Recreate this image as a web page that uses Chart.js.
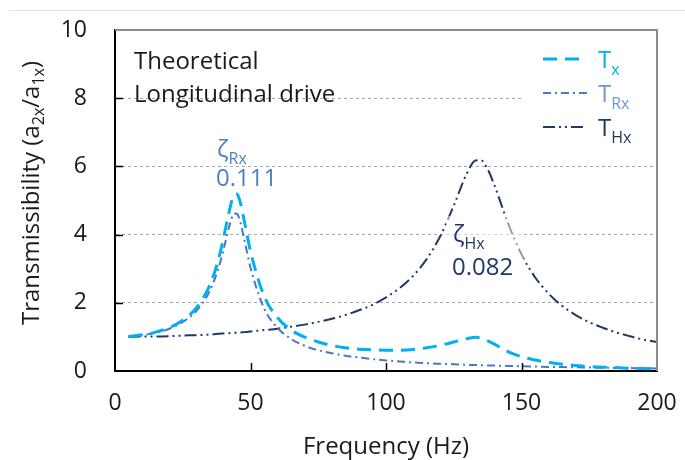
<!DOCTYPE html>
<html><head><meta charset="utf-8">
<script src="https://cdn.jsdelivr.net/npm/chart.js@4.4.1/dist/chart.umd.min.js"></script>
<style>html,body{margin:0;padding:0;background:#fff;}#wrap{width:685px;height:460px;}</style>
</head><body><div id="wrap"><canvas id="c" width="685" height="460"></canvas></div>
<script>
// Frequency (Hz)
const freq = [5,10,15,20,25,30,35,38,40,42,44,45,46,48,50,
  55,60,65,70,75,80,85,90,95,100,
  105,110,115,120,125,130,133,135,137,140,
  145,150,155,160,165,170,175,180,185,190,
  195,200];
// T_x
const tx = [1.01,1.06,1.14,1.27,1.49,1.85,2.52,3.22,3.88,4.63,5.17,5.19,5.01,4.29,3.51,
  2.20,1.56,1.20,0.99,0.85,0.75,0.68,0.64,0.62,0.61,
  0.61,0.63,0.68,0.75,0.85,0.95,0.99,0.96,0.90,0.79,
  0.57,0.42,0.32,0.25,0.20,0.16,0.13,0.11,0.10,0.08,
  0.07,0.06];
// T_Rx
const trx = [1.01,1.05,1.12,1.24,1.44,1.76,2.35,2.97,3.54,4.19,4.62,4.61,4.43,3.75,3.03,
  1.84,1.26,0.94,0.74,0.61,0.52,0.45,0.40,0.35,0.31,
  0.28,0.25,0.23,0.21,0.20,0.18,0.175,0.17,0.165,0.16,
  0.15,0.14,0.13,0.12,0.115,0.11,0.10,0.095,0.09,0.085,
  0.08,0.075];
// T_Hx
const thx = [1.00,1.01,1.01,1.02,1.04,1.05,1.07,1.09,1.10,1.11,1.12,1.12,1.13,1.14,1.16,
  1.20,1.24,1.30,1.36,1.44,1.53,1.64,1.78,1.94,2.16,
  2.43,2.79,3.28,3.95,4.85,5.82,6.17,6.18,6.00,5.45,
  4.34,3.42,2.75,2.27,1.91,1.64,1.43,1.27,1.13,1.02,
  0.92,0.85];
const xTickVals = [0,50,100,150,200];
const yTickVals = [0,2,4,6,8,10];
const seriesNames = [["T","x"],["T","Rx"],["T","Hx"]];
const zetaLabels = [["\u03B6","Rx","0.111"],["\u03B6","Hx","0.082"]];
const noteLines = ["Theoretical","Longitudinal drive"];

const FONT = "'Open Sans', 'Noto Sans', sans-serif";
const C_TX = '#00B0F0', C_TRX = '#4A78C2', C_THX = '#1F3864';
const C_TRX_TXT = '#6C98D6';

function pts(ys){ return freq.map((f,i)=>({x:f,y:ys[i]})); }

function drawSub(ctx, x, y, main, sub, size, subSize, color){
  ctx.fillStyle = color;
  ctx.textAlign = 'left';
  ctx.textBaseline = 'alphabetic';
  ctx.font = size + 'px ' + FONT;
  ctx.fillText(main, x, y);
  const w = ctx.measureText(main).width;
  ctx.font = subSize + 'px ' + FONT;
  ctx.fillText(sub, x + w, y + Math.round(size*0.3));
  return w + ctx.measureText(sub).width;
}

const deco = {
  id: 'deco',
  beforeDatasetsDraw(chart){
    const ctx = chart.ctx;
    ctx.save();
    ctx.fillStyle = '#fff';
    ctx.fillRect(522, 40, 134, 110);
    ctx.restore();
  },
  afterDatasetsDraw(chart){
    const ctx = chart.ctx;
    ctx.save();
    ctx.fillStyle = 'rgba(255,255,255,0.5)';
    ctx.fillRect(446, 216, 78, 66);
    ctx.restore();
  },
  afterDraw(chart){
    const ctx = chart.ctx;
    const a = chart.chartArea;
    const xs = chart.scales.x, ys = chart.scales.y;
    ctx.save();
    // top separator line
    ctx.strokeStyle = '#e3e3e3'; ctx.lineWidth = 1;
    ctx.beginPath(); ctx.moveTo(9, 10.5); ctx.lineTo(685, 10.5); ctx.stroke();
    // top & right border
    ctx.strokeStyle = '#8c8c8c'; ctx.lineWidth = 2;
    ctx.beginPath(); ctx.moveTo(a.left, a.top); ctx.lineTo(a.right, a.top); ctx.lineTo(a.right, a.bottom); ctx.stroke();
    // inward tick marks
    ctx.strokeStyle = '#000'; ctx.lineWidth = 1.5;
    ctx.beginPath();
    [50,100,150].forEach(v=>{ const p = Math.round(xs.getPixelForValue(v))+0.5; ctx.moveTo(p, a.bottom); ctx.lineTo(p, a.bottom-8); });
    [2,4,6,8].forEach(v=>{ const p = Math.round(ys.getPixelForValue(v))+0.5; ctx.moveTo(a.left, p); ctx.lineTo(a.left+8, p); });
    ctx.stroke();
    // y title with subscripts
    ctx.save();
    ctx.translate(39, 193);
    ctx.rotate(-Math.PI/2);
    const parts = [["Transmissibility (a",0],["2x",1],["/a",0],["1x",1],[")",0]];
    let tot = 0;
    parts.forEach(p=>{ ctx.font = (p[1]?16:24)+'px '+FONT; tot += ctx.measureText(p[0]).width; });
    let cx = -tot/2;
    ctx.fillStyle = '#1a1a1a'; ctx.textBaseline = 'alphabetic';
    parts.forEach(p=>{ ctx.font = (p[1]?16:24)+'px '+FONT; ctx.fillText(p[0], cx, p[1]?5:0); cx += ctx.measureText(p[0]).width; });
    ctx.restore();
    // notes
    ctx.fillStyle = '#1a1a1a'; ctx.font = '24px ' + FONT; ctx.textAlign='left'; ctx.textBaseline='alphabetic';
    ctx.fillText(noteLines[0], 134, 69);
    ctx.fillText(noteLines[1], 134, 102);
    // legend
    const rows = [
      {y:59, c:C_TX, tc:C_TX, w:3, dash:[14,8]},
      {y:93, c:C_TRX, tc:C_TRX_TXT, w:2, dash:[8,4,2,4]},
      {y:127, c:C_THX, tc:C_THX, w:2, dash:[12,4,2,4,2,4]}
    ];
    rows.forEach((r,i)=>{
      ctx.save();
      ctx.strokeStyle = r.c; ctx.lineWidth = r.w; ctx.setLineDash(r.dash);
      ctx.beginPath(); ctx.moveTo(543, r.y); ctx.lineTo(587, r.y); ctx.stroke();
      ctx.restore();
      drawSub(ctx, 598, r.y + 9, seriesNames[i][0], seriesNames[i][1], 24, 16, r.tc);
    });
    // zeta annotations
    drawSub(ctx, 217, 157, zetaLabels[0][0], zetaLabels[0][1], 24, 16, '#4F7FC0');
    ctx.fillStyle = '#4F7FC0'; ctx.font = '24px ' + FONT; ctx.textAlign='left';
    ctx.fillText(zetaLabels[0][2], 216, 186);
    drawSub(ctx, 453, 242, zetaLabels[1][0], zetaLabels[1][1], 24, 16, C_THX);
    ctx.fillStyle = C_THX; ctx.font = '24px ' + FONT;
    ctx.fillText(zetaLabels[1][2], 452, 275);
    ctx.restore();
  }
};

new Chart(document.getElementById('c'), {
  type: 'line',
  data: {
    datasets: [
      {label:'Tx', data: pts(tx), borderColor: C_TX, borderWidth: 3, borderDash:[14,8], pointRadius:0, cubicInterpolationMode:'monotone', fill:false},
      {label:'TRx', data: pts(trx), borderColor: C_TRX, borderWidth: 2, borderDash:[8,4,2,4], pointRadius:0, cubicInterpolationMode:'monotone', fill:false},
      {label:'THx', data: pts(thx), borderColor: C_THX, borderWidth: 2, borderDash:[12,4,2,4,2,4], pointRadius:0, cubicInterpolationMode:'monotone', fill:false}
    ]
  },
  options: {
    responsive: false,
    animation: false,
    devicePixelRatio: 1,
    layout: { padding: { top: 30, right: 28, left: 0, bottom: 0 } },
    plugins: { legend: { display: false }, tooltip: { enabled: false } },
    scales: {
      x: {
        type: 'linear', min: 0, max: 200,
        afterBuildTicks: s => { s.ticks = xTickVals.map(v=>({value:v})); },
        afterFit: s => { s.height = 89; s.paddingLeft = 0; s.paddingRight = 0; s.paddingTop = 0; s.paddingBottom = 0; },
        grid: { display: false, drawTicks: false },
        border: { display: true, color: '#000', width: 2 },
        ticks: { font: { family: FONT, size: 23 }, color: '#1a1a1a', padding: 19, maxRotation: 0 },
        title: { display: true, text: 'Frequency (Hz)', font: { family: FONT, size: 24, lineHeight: 1.1 }, color: '#1a1a1a', padding: { top: 0, bottom: 0 } }
      },
      y: {
        type: 'linear', min: 0, max: 10,
        afterBuildTicks: s => { s.ticks = yTickVals.map(v=>({value:v})); },
        afterFit: s => { s.width = 115; s.paddingLeft = 0; s.paddingRight = 0; s.paddingTop = 0; s.paddingBottom = 0; },
        grid: { drawTicks: false, color: c => (c.tick && c.tick.value > 0 && c.tick.value < 10) ? '#a6a6a6' : 'rgba(0,0,0,0)', lineWidth: 1 },
        border: { display: true, color: '#000', width: 2, dash: [3,3] },
        ticks: { font: { family: FONT, size: 23 }, color: '#1a1a1a', padding: 28 }
      }
    }
  },
  plugins: [deco]
});
</script>
</body></html>
